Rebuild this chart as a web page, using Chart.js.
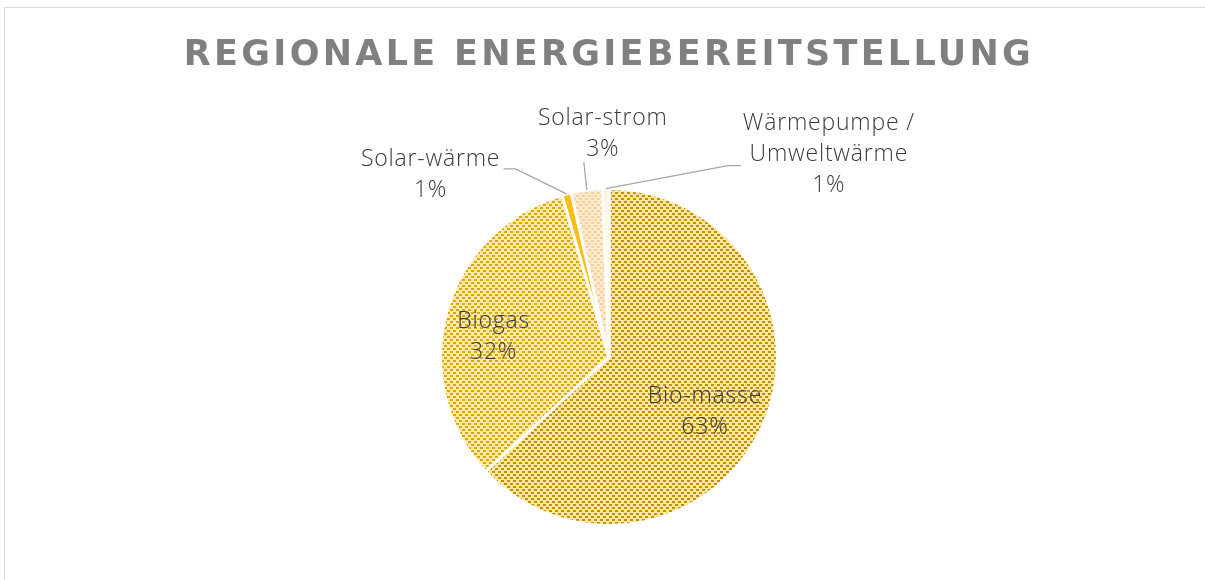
<!DOCTYPE html>
<html>
<head>
<meta charset="utf-8">
<script src="https://cdn.jsdelivr.net/npm/chart.js@4"></script>
<style>
  html, body { margin: 0; padding: 0; background: #fff; overflow: hidden; }
  #wrap { position: relative; width: 1205px; height: 580px; overflow: hidden; }
  #frame { position: absolute; left: 4px; top: 7px; width: 1240px; height: 620px; border: 1px solid #d9d9d9; }
  canvas { position: absolute; left: 0; top: 0; }
</style>
</head>
<body>
<div id="wrap">
  <div id="frame"></div>
  <canvas id="pie" width="1205" height="580"></canvas>
</div>
<script>
// Daten
const categories = ['Bio-masse', 'Biogas', 'Solar-wärme', 'Solar-strom', 'Wärmepumpe / Umweltwärme'];
const labelLines = [['Bio-masse'], ['Biogas'], ['Solar-wärme'], ['Solar-strom'], ['Wärmepumpe /', 'Umweltwärme']];
const shares = [63.1, 32.4, 0.9, 3.0, 0.6];

const canvas = document.getElementById('pie');
const ctx = canvas.getContext('2d');

// Muster (Schraffur) für die Segmente
function hatch(fg, bg) {
  const tile = document.createElement('canvas');
  tile.width = 6;
  tile.height = 6;
  const t = tile.getContext('2d');
  t.fillStyle = bg;
  t.fillRect(0, 0, 6, 6);
  t.fillStyle = fg;
  t.fillRect(0, 3, 3, 2);
  t.fillRect(3, 0, 3, 2);
  return ctx.createPattern(tile, 'repeat');
}

const fills = [
  hatch('#c39000', '#fce6a0'),
  hatch('#dca800', '#fde9aa'),
  '#fdbd12',
  hatch('#fccf96', '#feead0'),
  '#fff3dc'
];

// Platzierung der Beschriftungen (relativ zum Segment)
const place = [
  { inside: true, r: 0.66, dx: -6, dy: 10 },
  { inside: true, r: 0.68, dx: -5, dy: 11 },
  { inside: false, dx: -136, dy: -19, end: [73, -6], elbow: [85, -6] },
  { inside: false, dx: 16, dy: -56, end: [-19, 28], elbow: [-19, 28] },
  { inside: false, dx: 223, dy: -34, end: [-88, 11], elbow: [-101, 11] }
];

// Titel mit Sperrung
const spacing = {
  id: 'spacing',
  beforeDraw(chart) { chart.ctx.letterSpacing = '3.3px'; },
  beforeDatasetsDraw(chart) { chart.ctx.letterSpacing = '0px'; }
};

const sliceLabels = {
  id: 'sliceLabels',
  afterDatasetsDraw(chart) {
    const c = chart.ctx;
    const arcs = chart.getDatasetMeta(0).data;
    c.save();
    c.font = '300 23px "Open Sans"';
    c.letterSpacing = '0.8px';
    c.textAlign = 'center';
    c.textBaseline = 'middle';
    arcs.forEach((arc, i) => {
      const p = place[i];
      const mid = (arc.startAngle + arc.endAngle) / 2;
      const r = p.inside ? arc.outerRadius * p.r : arc.outerRadius;
      const ax = arc.x + Math.cos(mid) * r;
      const ay = arc.y + Math.sin(mid) * r;
      const cx = ax + p.dx;
      const cy = ay + p.dy;
      if (!p.inside) {
        c.strokeStyle = '#a6a6a6';
        c.lineWidth = 1.3;
        c.beginPath();
        c.moveTo(ax, ay);
        c.lineTo(cx + p.elbow[0], cy + p.elbow[1]);
        c.lineTo(cx + p.end[0], cy + p.end[1]);
        c.stroke();
      }
      const lines = [...labelLines[i], Math.round(shares[i]) + '%'];
      const lh = 31;
      const top = cy - (lines.length - 1) * lh / 2;
      c.fillStyle = '#3a3a3a';
      lines.forEach((txt, k) => c.fillText(txt, cx, top + k * lh));
    });
    c.restore();
  }
};

new Chart(ctx, {
  type: 'pie',
  data: {
    labels: categories,
    datasets: [{
      data: shares,
      backgroundColor: fills,
      borderColor: '#ffffff',
      borderWidth: 3
    }]
  },
  options: {
    responsive: false,
    animation: false,
    layout: { padding: { left: 13, right: 0, top: 0, bottom: 53 } },
    plugins: {
      legend: { display: false },
      tooltip: { enabled: false },
      title: {
        display: true,
        text: 'REGIONALE ENERGIEBEREITSTELLUNG',
        color: '#808080',
        font: { family: 'DejaVu Sans', size: 35, weight: 'bold' },
        padding: { top: 35, bottom: 110 }
      }
    }
  },
  plugins: [spacing, sliceLabels]
});
</script>
</body>
</html>
